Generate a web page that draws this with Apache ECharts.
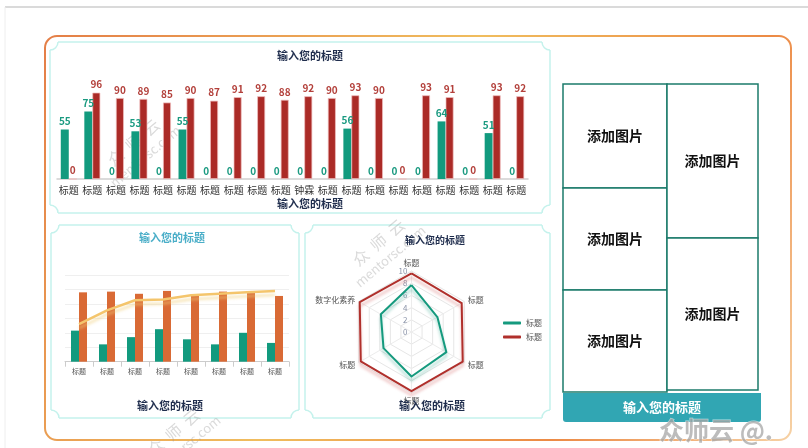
<!DOCTYPE html>
<html><head><meta charset="utf-8">
<script src="https://cdn.jsdelivr.net/npm/echarts@6/dist/echarts.min.js"></script>
<style>html,body{margin:0;padding:0;background:#fff}#c{width:808px;height:448px}</style>
</head><body><div id="c"></div>
<script>
// ---- data ----
const topCats = ['标题','标题','标题','标题','标题','标题','标题','标题','标题','标题','钟霖','标题','标题','标题','标题','标题','标题','标题','标题','标题'];
const topGreen = [55,75,0,53,0,55,0,0,0,0,0,0,56,0,0,0,64,0,51,0];
const topRed   = [0,96,90,89,85,90,87,91,92,88,92,90,93,90,0,93,91,0,93,92];

const blCats = ['标题','标题','标题','标题','标题','标题','标题','标题'];
const blGreen = [43,24,34,45,31,24,40,26];
const blOrange = [96,97,94,98,91,97,95,91];
const blLine = [52,71,85,86,92,94,96,98];

const radarNames = ['标题','数字化素养','标题','标题','标题','标题'];
const radarGreen = [7.7,5.8,5.3,7.3,6.6,4.9];
const radarRed = [9.6,9.8,9.6,9.7,9.7,9.5];

const titleText = '输入您的标题';
const imgText = '添加图片';

// ---- helpers ----
const FONT = '"Noto Sans CJK SC","Noto Sans",sans-serif';
const FC = '#c4f2ec';
function frame(x0,y0,x1,y1){
  const r = 8, st = {stroke:FC, lineWidth:1.5, fill:'none'};
  const L = (a,b,c,d)=>({type:'line', silent:true, shape:{x1:a,y1:b,x2:c,y2:d}, style:st, z:0});
  const A = (cx,cy,s,e)=>({type:'arc', silent:true, shape:{cx:cx,cy:cy,r:r,startAngle:s,endAngle:e,clockwise:true}, style:st, z:0});
  const P = Math.PI;
  return [
    L(x0+r,y0,x1-r,y0), L(x1,y0+r,x1,y1-r), L(x0+r,y1,x1-r,y1), L(x0,y0+r,x0,y1-r),
    A(x0,y0,0,P/2), A(x1,y0,P/2,P), A(x1,y1,P,1.5*P), A(x0,y1,1.5*P,2*P)
  ];
}
function txt(x,y,t,size,color,weight){
  return {type:'text', x:x, y:y, silent:true, style:{text:t, fill:color, font:`${weight||'bold'} ${size}px ${FONT}`, textAlign:'center', textVerticalAlign:'middle'}, z:5};
}
function imgBox(x0,y0,x1,y1){
  return [
    {type:'rect', shape:{x:x0,y:y0,width:x1-x0,height:y1-y0}, style:{fill:'#fff', stroke:'#1b7b6b', lineWidth:1.5}, z:2},
    txt((x0+x1)/2,(y0+y1)/2,imgText,14,'#111','bold')
  ];
}
function watermark(x,y){
  return {type:'group', x:x, y:y, rotation:Math.PI*40/180, silent:true, z:20, children:[
    {type:'text', x:0, y:-10, style:{text:'众  师  云', fill:'rgba(150,150,150,0.35)', font:`16px ${FONT}`, textAlign:'center', textVerticalAlign:'middle'}},
    {type:'text', x:0, y:8, style:{text:'mentorsc.com', fill:'rgba(150,150,150,0.35)', font:`13px ${FONT}`, textAlign:'center', textVerticalAlign:'middle'}}
  ]};
}

const graphics = [
  {type:'line', shape:{x1:5,y1:7,x2:808,y2:7}, style:{stroke:'#dadada', lineWidth:2}, z:0},
  {type:'line', shape:{x1:5,y1:7,x2:5,y2:448}, style:{stroke:'#eeeeee', lineWidth:1}, z:0},
  {type:'rect', shape:{x:45,y:36,width:746,height:404,r:12}, style:{fill:'none', lineWidth:2,
    stroke:new echarts.graphic.LinearGradient(0,0,1,1,[{offset:0,color:'#e47e47'},{offset:0.45,color:'#f0bd5e'},{offset:0.75,color:'#ec8a45'},{offset:1,color:'#f6d2a6'}])}, z:0},
  ...frame(50,42,550,213),
  ...frame(51,225,299,418),
  ...frame(305,225,550,418),
  txt(310,56,titleText,11,'#1f2d4d'),
  txt(310,204,titleText,11,'#1f2d4d'),
  txt(172,238,titleText,11,'#4aaec8'),
  txt(170,406,titleText,11,'#1f2d4d'),
  txt(435,240,titleText,10,'#1f2d4d'),
  txt(432,406,titleText,11,'#1f2d4d'),
  ...imgBox(563,84,667,188),
  ...imgBox(563,188,667,290),
  ...imgBox(563,290,667,392),
  ...imgBox(667,84,758,238),
  ...imgBox(667,238,758,390),
  {type:'rect', shape:{x:563,y:393,width:198,height:29,r:[0,0,3,3]}, style:{fill:'#31a6b3'}, z:2},
  txt(662,407,titleText,13,'#ffffff'),
  watermark(140,150),
  watermark(385,250),
  watermark(180,440),
  {type:'text', x:716, y:430, silent:true, z:21, style:{text:'众师云 @.', fill:'rgba(165,165,165,0.75)', stroke:'rgba(255,255,255,0.6)', lineWidth:1, font:`bold 25px ${FONT}`, textAlign:'center', textVerticalAlign:'middle'}}
];

const chart = echarts.init(document.getElementById('c'), null, {renderer:'canvas'});
chart.setOption({
  animation:false,
  backgroundColor:'#ffffff',
  textStyle:{fontFamily:FONT},
  graphic:{elements:graphics},
  grid:[
    {left:57, top:89, width:471, height:90},
    {left:65, top:275, width:224, height:86.7}
  ],
  xAxis:[
    {gridIndex:0, type:'category', data:topCats, axisTick:{show:false},
     axisLine:{lineStyle:{color:'#d0d0d0', width:1.5}},
     axisLabel:{interval:0, fontSize:10, color:'#333', margin:6}},
    {gridIndex:1, type:'category', data:blCats, axisTick:{show:true, lineStyle:{color:'#ccc'}},
     axisLine:{lineStyle:{color:'#cccccc'}},
     axisLabel:{interval:0, fontSize:7, color:'#555', margin:6}}
  ],
  yAxis:[
    {gridIndex:0, type:'value', min:0, max:100, show:false},
    {gridIndex:1, type:'value', min:0, max:120, interval:20, axisLabel:{show:false}, axisLine:{show:false}, axisTick:{show:false},
     splitLine:{lineStyle:{color:'#efefef'}}}
  ],
  radar:{
    center:[411.5,332], radius:61, startAngle:90, splitNumber:5,
    indicator: radarNames.map((n,i)=> i===0 ? {name:n, min:0, max:10, axisLabel:{show:true}} : {name:n, min:0, max:10}),
    axisName:{color:'#555', fontSize:8},
    nameGap:4,
    axisLabel:{show:false, color:'#8a93a8', fontSize:8, margin:4},
    splitLine:{lineStyle:{color:'#e6e6e6'}},
    splitArea:{show:false},
    axisLine:{lineStyle:{color:'#ececec'}}
  },
  legend:{
    data:['g','r'], orient:'vertical', left:498, top:314, itemWidth:18, itemHeight:3, itemGap:6, icon:'roundRect',
    formatter:()=> '标题', textStyle:{fontSize:8, color:'#555'}
  },
  series:[
    {type:'bar', xAxisIndex:0, yAxisIndex:0, data:topGreen, barWidth:8, barGap:'0%',
     itemStyle:{color:'#129a7e'},
     label:{show:true, position:'top', distance:3, fontSize:10, fontWeight:'bold', color:'#1a9a80'}},
    {type:'bar', xAxisIndex:0, yAxisIndex:0, data:topRed, barWidth:8, barGap:'0%',
     itemStyle:{color:'#ab2b27', borderColor:'rgba(240,190,190,0.9)', borderWidth:0.8},
     label:{show:true, position:'top', distance:3, fontSize:10, fontWeight:'bold', color:'#b3403b'}},
    {type:'bar', xAxisIndex:1, yAxisIndex:1, data:blGreen, barWidth:8, barGap:'0%',
     itemStyle:{color:'#129a7e'}},
    {type:'bar', xAxisIndex:1, yAxisIndex:1, data:blOrange, barWidth:8, barGap:'0%',
     itemStyle:{color:'#d96a35'}},
    {type:'line', xAxisIndex:1, yAxisIndex:1, data:blLine, symbol:'none', z:5,
     lineStyle:{color:'#f4c56c', width:2.5, shadowColor:'rgba(240,205,120,0.55)', shadowBlur:3, shadowOffsetY:4}},
    {type:'radar', symbol:'none', data:[
      {name:'g', value:radarGreen, lineStyle:{color:'#159a7e', width:2, shadowColor:'rgba(21,154,126,0.35)', shadowBlur:3, shadowOffsetY:4}, itemStyle:{color:'#159a7e'}},
      {name:'r', value:radarRed, lineStyle:{color:'#b0302c', width:2, shadowColor:'rgba(200,60,60,0.35)', shadowBlur:3, shadowOffsetY:4}, itemStyle:{color:'#b0302c'}}
    ]}
  ]
});
</script></body></html>
